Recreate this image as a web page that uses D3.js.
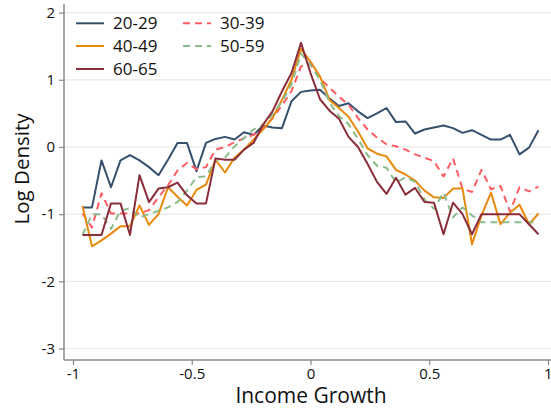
<!DOCTYPE html>
<html><head><meta charset="utf-8">
<script src="https://cdn.jsdelivr.net/npm/d3@7"></script>
<style>html,body{margin:0;padding:0;background:#fff;}svg{display:block;font-family:"Open Sans",sans-serif;}</style>
</head><body>
<svg id="c" width="551" height="411"></svg>
<script>
const growth = [-0.96,-0.92,-0.88,-0.84,-0.80,-0.76,-0.72,-0.68,-0.64,-0.60,-0.56,-0.52,-0.48,-0.44,-0.40,-0.36,-0.32,-0.28,-0.24,-0.20,-0.16,-0.12,-0.08,-0.04,0.00,0.04,0.08,0.12,0.16,0.20,0.24,0.28,0.32,0.36,0.40,0.44,0.48,0.52,0.56,0.60,0.64,0.68,0.72,0.76,0.80,0.84,0.88,0.92,0.96];
const age2029 = [-0.90,-0.90,-0.20,-0.60,-0.20,-0.12,-0.20,-0.30,-0.42,-0.19,0.06,0.06,-0.36,0.06,0.12,0.15,0.11,0.22,0.18,0.32,0.29,0.28,0.68,0.82,0.84,0.85,0.72,0.61,0.65,0.53,0.43,0.50,0.58,0.37,0.38,0.20,0.26,0.29,0.32,0.28,0.21,0.25,0.18,0.11,0.11,0.18,-0.11,-0.01,0.25];
const age3039 = [-0.99,-1.20,-0.69,-0.99,-0.99,-0.99,-0.99,-0.94,-0.75,-0.57,-0.35,-0.24,-0.33,-0.30,-0.04,0.00,0.07,0.13,0.18,0.28,0.43,0.62,0.83,1.20,1.24,1.02,0.88,0.75,0.63,0.43,0.26,0.14,0.04,0.01,-0.04,-0.11,-0.16,-0.21,-0.44,-0.17,-0.62,-0.67,-0.34,-0.63,-0.58,-0.96,-0.60,-0.66,-0.59];
const age4049 = [-0.88,-1.48,-1.39,-1.29,-1.18,-1.18,-0.87,-1.16,-1.00,-0.60,-0.74,-0.87,-0.64,-0.56,-0.19,-0.38,-0.16,-0.04,0.11,0.26,0.43,0.70,1.00,1.46,1.27,1.05,0.70,0.58,0.45,0.23,-0.02,-0.10,-0.14,-0.34,-0.41,-0.50,-0.65,-0.75,-0.76,-0.62,-0.62,-1.45,-1.02,-0.68,-1.15,-0.98,-0.86,-1.15,-0.99];
const age5059 = [-1.31,-1.00,-1.00,-1.22,-0.95,-0.91,-1.05,-1.00,-0.95,-0.90,-0.82,-0.65,-0.45,-0.44,-0.20,-0.16,0.01,0.13,0.26,0.33,0.48,0.68,0.93,1.39,1.22,1.00,0.66,0.46,0.34,0.12,-0.12,-0.28,-0.31,-0.53,-0.45,-0.52,-0.78,-0.92,-0.68,-1.05,-0.90,-1.02,-1.12,-1.12,-1.12,-1.12,-1.12,-1.12,-1.12];
const age6065 = [-1.31,-1.31,-1.31,-0.84,-0.84,-1.31,-0.42,-0.82,-0.62,-0.60,-0.53,-0.72,-0.84,-0.84,-0.17,-0.19,-0.19,-0.04,0.06,0.33,0.53,0.83,1.10,1.55,1.10,0.71,0.54,0.42,0.15,0.00,-0.25,-0.52,-0.70,-0.46,-0.71,-0.61,-0.82,-0.83,-1.30,-0.83,-1.00,-1.30,-1.00,-1.00,-1.00,-1.00,-1.00,-1.15,-1.30];
const seriesNames = ["20-29","30-39","40-49","50-59","60-65"];
const seriesValues = [age2029, age3039, age4049, age5059, age6065];
const xTicks = [-1,-0.5,0,0.5,1];
const yTicks = [-3,-2,-1,0,1,2];

const colors = ["#35506e","#ff5c61","#e8890c","#8dbb8b","#8a2d3b"];
const dashes = [null,"7,5",null,"7,5",null];

const svg = d3.select("#c");
const x = d3.scaleLinear().domain([-1,1]).range([73,548]);
const y = d3.scaleLinear().domain([-3,2]).range([348.5,12.6]);
const L = 64, R = 551, T = 4, B = 360;

svg.append("g").selectAll("line").data(yTicks).join("line")
  .attr("x1",L).attr("x2",R).attr("y1",d=>y(d)).attr("y2",d=>y(d))
  .attr("stroke","#e9e9e9").attr("stroke-width",1.2);

const yAxis = svg.append("g").attr("transform",`translate(${L},0)`)
  .call(d3.axisLeft(y).tickValues(yTicks).tickFormat(d=>String(d)).tickSize(5).tickPadding(4));
const xAxis = svg.append("g").attr("transform",`translate(0,${B})`)
  .call(d3.axisBottom(x).tickValues(xTicks).tickFormat(d=>String(d)).tickSize(5).tickPadding(3));
[yAxis,xAxis].forEach(a=>{
  a.select(".domain").remove();
  a.selectAll(".tick line").attr("stroke","#8a8a8a").attr("stroke-width",1.2);
  a.selectAll(".tick text").attr("fill","#111").style("font-size","15px").style("font-family","'Open Sans',sans-serif");
});
xAxis.selectAll(".tick text").filter(d=>d===1).attr("text-anchor","end").attr("dx","4");
svg.append("line").attr("x1",L).attr("x2",L).attr("y1",T).attr("y2",B).attr("stroke","#8a8a8a").attr("stroke-width",1.5);
svg.append("line").attr("x1",L).attr("x2",R).attr("y1",B).attr("y2",B).attr("stroke","#8a8a8a").attr("stroke-width",1.5);

const line = d3.line().x((d,i)=>x(growth[i])).y(d=>y(d));
seriesValues.forEach((vals,s)=>{
  svg.append("path").datum(vals).attr("d",line)
    .attr("fill","none").attr("stroke",colors[s]).attr("stroke-width",2)
    .attr("stroke-linejoin","round")
    .attr("stroke-dasharray",dashes[s]);
});

const legPos = [[76,23.3],[183,23.3],[76,46],[183,46],[76,69]];
seriesNames.forEach((n,s)=>{
  const [lx,ly] = legPos[s];
  svg.append("line").attr("x1",lx).attr("x2",lx+28).attr("y1",ly).attr("y2",ly)
    .attr("stroke",colors[s]).attr("stroke-width",2).attr("stroke-dasharray",dashes[s]);
  svg.append("text").attr("x",lx+37).attr("y",ly+6).text(n)
    .attr("fill","#111").style("font-size","17px");
});

svg.append("text").attr("x",311).attr("y",403).attr("text-anchor","middle")
  .style("font-size","21px").attr("fill","#111").text("Income Growth");
svg.append("text").attr("transform","translate(29,169) rotate(-90)").attr("text-anchor","middle")
  .style("font-size","20.5px").attr("fill","#111").text("Log Density");
</script>
</body></html>
